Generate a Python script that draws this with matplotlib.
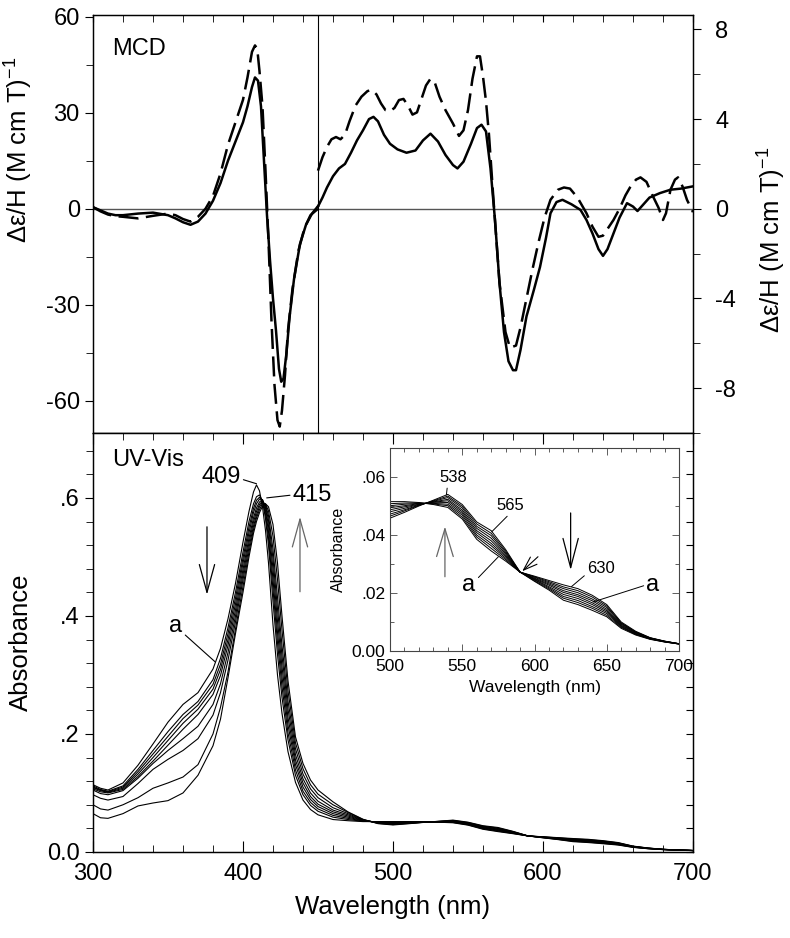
import numpy as np
import matplotlib.pyplot as plt
from matplotlib.patches import FancyArrowPatch
from matplotlib.ticker import MultipleLocator, FixedLocator, FixedFormatter

plt.rcParams['font.family'] = ['Liberation Sans', 'DejaVu Sans']
plt.rcParams['mathtext.fontset'] = 'custom'
plt.rcParams['mathtext.rm'] = 'Liberation Sans'
plt.rcParams['axes.linewidth'] = 0.9

# ---------------- MCD data ----------------
# solid trace, 300-450 nm (left axis)
mcd_solid_wl1 = [300, 305, 310, 315, 320, 330, 340, 350, 355, 360, 365, 370, 375, 380, 385,
                 390, 395, 400, 403, 406, 408, 410, 412, 414, 416, 418, 420, 422, 424, 425.5,
                 427, 429, 431, 434, 438, 442, 446, 450]
mcd_solid_v1 = [0.5, -0.5, -1.5, -2, -2, -1.5, -1.2, -2, -3, -4.2, -5, -4, -1.5, 2.5, 8,
                15, 21, 27, 32, 38, 41, 40, 32, 15, -2, -16, -28, -38, -50, -54,
                -53, -45, -34, -22, -11, -5, -1.5, 0.8]

# dashed trace, 300-450 nm (left axis)
mcd_dash_wl1 = [300, 305, 310, 315, 320, 330, 340, 350, 355, 360, 365, 370, 375, 380, 385,
                390, 395, 400, 403, 406, 408, 409.5, 411, 413, 415, 417, 419, 421, 423, 424.5,
                426, 428, 430, 433, 437, 441, 445, 450]
mcd_dash_v1 = [0.5, -0.8, -1.8, -2.3, -2.5, -3, -2.2, -1.5, -2, -3.2, -4, -2.5, 0, 4, 11,
               20, 27, 34, 41, 49, 51, 50, 43, 32, 12, -10, -35, -55, -66, -68,
               -63, -52, -38, -25, -13, -6, -2, 0]

# solid trace, 450-700 nm (right axis)
mcd_solid_wl2 = [450, 453, 456, 460, 464, 468, 472, 476, 480, 484, 487, 490, 494, 498, 503,
                 509, 515, 520, 525, 530, 535, 540, 543, 547, 552, 556, 559, 562, 565, 568,
                 571, 574, 577, 580, 582, 585, 589, 594, 598, 602, 605, 609, 613, 619, 625,
                 629, 633, 637, 640, 643, 647, 651, 656, 660, 663, 667, 671, 678, 685, 692, 700]
mcd_solid_v2 = [0.1, 0.5, 0.95, 1.45, 1.8, 2.0, 2.5, 3.05, 3.5, 4.0, 4.1, 3.9, 3.3, 2.9, 2.65,
                2.5, 2.6, 3.05, 3.35, 3.0, 2.4, 1.95, 1.8, 2.1, 2.9, 3.6, 3.75, 3.45, 1.8, -0.5,
                -3.3, -5.5, -6.8, -7.2, -7.2, -6.3, -4.8, -3.6, -2.6, -1.3, -0.2, 0.3, 0.4, 0.2, -0.05,
                -0.5, -1.1, -1.8, -2.1, -1.8, -1.1, -0.4, 0.25, 0.1, -0.1, 0.2, 0.5, 0.7, 0.85, 0.9, 1.0]

# dashed trace, 450-700 nm (right axis)
mcd_dash_wl2 = [450, 453, 456, 459, 462, 465, 468, 471, 475, 479, 483, 486, 489, 492, 495,
                498, 501, 504, 507, 510, 513, 516, 519, 522, 525, 528, 531, 535, 540, 544,
                547, 550, 553, 556, 558, 560, 562, 564, 567, 571, 575, 578, 582, 585, 589,
                593, 597, 601, 605, 610, 614, 618, 623, 629, 633, 637, 640, 643, 647, 651,
                655, 658, 662, 665, 669, 673, 677, 680, 682, 685, 688, 690, 693, 696, 700]
mcd_dash_v2 = [1.7, 2.3, 2.76, 3.1, 3.2, 3.1, 3.3, 3.9, 4.6, 5.0, 5.25, 5.3, 5.1, 4.7, 4.4,
               4.35, 4.5, 4.85, 4.9, 4.6, 4.2, 4.3, 4.9, 5.5, 5.8, 5.6, 5.0, 4.4, 3.8, 3.25,
               3.5, 4.4, 5.8, 6.8, 6.8, 5.9, 4.8, 3.3, 0.4, -3.3, -5.5, -6.2, -6.1, -5.3, -4.0,
               -2.7, -1.5, -0.4, 0.4, 0.85, 0.95, 0.9, 0.5, -0.2, -0.8, -1.25, -1.2, -0.9, -0.5, 0.0,
               0.6, 0.95, 1.3, 1.4, 1.2, 0.6, 0.05, -0.5, -0.2, 0.85, 1.3, 1.4, 1.0, 0.4, -0.15]

# ---------------- UV-Vis data ----------------
uv_wl = [300, 305, 310, 320, 330, 340, 350, 360, 370, 380, 385, 390, 395, 400, 404, 407, 409,
         411, 413, 415, 417, 420, 423, 426, 430, 435, 440, 445, 450, 460, 470, 480, 490,
         500, 510, 520, 530, 540, 550, 560, 570, 580, 590, 600, 610, 620, 630, 640, 650,
         660, 670, 680, 690, 700]

uv_a = [.114, .108, .105, .117, .147, .183, .220, .250, .270, .310, .345, .395, .455, .525, .577, .610, .622,
        .612, .585, .545, .490, .385, .300, .235, .170, .118, .088, .072, .063, .055, .053, .0515, .0515,
        .0515, .0515, .0512, .0505, .0495, .0455, .0385, .0345, .0310, .0272, .0258, .0243, .0228, .0215, .0192, .0160,
        .0100, .0068, .0046, .0034, .0025]
uv_b = [.112, .106, .103, .112, .140, .172, .204, .233, .255, .292, .328, .380, .440, .508, .560, .590, .602,
        .605, .595, .565, .520, .425, .335, .262, .190, .130, .097, .079, .069, .059, .055, .052, .0512,
        .0508, .0510, .0511, .0507, .0501, .0461, .0393, .0354, .0315, .0272, .0256, .0239, .0221, .0208, .0186, .0155,
        .0097, .0066, .0045, .0034, .0025]
uv_c = [.110, .105, .102, .110, .136, .166, .196, .226, .249, .284, .318, .370, .430, .498, .550, .582, .596,
        .601, .596, .572, .532, .445, .355, .280, .202, .139, .103, .084, .073, .062, .057, .0525, .051,
        .0501, .0506, .0509, .0509, .0506, .0468, .0400, .0363, .0320, .0272, .0254, .0235, .0215, .0201, .0179, .0150,
        .0095, .0065, .0045, .0033, .0025]
uv_d = [.109, .104, .101, .108, .132, .160, .189, .218, .242, .276, .309, .360, .420, .489, .541, .575, .590,
        .598, .597, .578, .543, .462, .373, .297, .215, .148, .110, .089, .077, .065, .059, .053, .0505,
        .0494, .0501, .0508, .0511, .0512, .0474, .0408, .0371, .0325, .0272, .0251, .0231, .0208, .0194, .0173, .0144,
        .0092, .0063, .0044, .0033, .0025]
uv_e = [.107, .102, .100, .106, .128, .154, .181, .208, .233, .267, .299, .350, .410, .479, .532, .566, .583,
        .593, .597, .583, .553, .480, .392, .314, .228, .156, .117, .094, .081, .068, .061, .0535, .050,
        .0487, .0497, .0506, .0513, .0518, .0480, .0415, .0380, .0330, .0272, .0249, .0227, .0202, .0188, .0166, .0139,
        .0089, .0062, .0043, .0033, .0025]
uv_f = [.105, .099, .097, .104, .125, .150, .172, .192, .213, .250, .285, .338, .400, .470, .524, .559, .577,
        .589, .595, .587, .562, .497, .412, .332, .242, .165, .124, .100, .086, .071, .063, .054, .0495,
        .0480, .0492, .0505, .0514, .0523, .0486, .0423, .0389, .0335, .0272, .0247, .0222, .0195, .0181, .0160, .0134,
        .0086, .0060, .0042, .0032, .0024]
uv_g = [.097, .091, .088, .094, .116, .140, .157, .172, .192, .232, .270, .325, .390, .461, .516, .552, .571,
        .585, .593, .589, .570, .513, .432, .350, .256, .175, .132, .107, .092, .075, .065, .0545, .049,
        .0472, .0487, .0503, .0516, .0529, .0493, .0430, .0398, .0340, .0272, .0245, .0218, .0188, .0174, .0153, .0129,
        .0084, .0058, .0042, .0032, .0024]
uv_h = [.080, .073, .071, .080, .092, .108, .117, .127, .148, .200, .245, .305, .378, .450, .508, .546, .566,
        .580, .590, .590, .578, .535, .462, .376, .273, .185, .141, .114, .098, .080, .067, .055, .0485,
        .0465, .0483, .0502, .0518, .0534, .0499, .0438, .0406, .0345, .0272, .0242, .0214, .0182, .0167, .0147, .0123,
        .0081, .0057, .0041, .0031, .0024]
uv_i = [.065, .058, .057, .065, .078, .083, .087, .100, .130, .180, .225, .295, .370, .440, .500, .540, .560,
        .575, .586, .590, .585, .555, .490, .400, .290, .195, .150, .122, .105, .085, .068, .0555, .048,
        .0458, .0478, .0500, .0520, .0540, .0505, .0445, .0415, .0350, .0272, .0240, .0210, .0175, .0160, .0140, .0118,
        .0078, .0055, .0040, .0031, .0024]

uv_spectra = [uv_a, uv_b, uv_c, uv_d, uv_e, uv_f, uv_g, uv_h, uv_i]

FS = 17      # tick labels and in-plot text
FSL = 18.5   # axis titles

fig = plt.figure(figsize=(7.9, 9.38), dpi=100)
ax1 = fig.add_axes([0.1177, 0.5384, 0.7595, 0.4456])
ax1r = ax1.twinx()
ax2 = fig.add_axes([0.1177, 0.0917, 0.7595, 0.4467])
ax2r = ax2.twinx()
axi = fig.add_axes([0.4937, 0.3060, 0.3658, 0.2164])

# ---- MCD panel ----
ax1.axhline(0, color='#555555', lw=1.0, zorder=1)
ax1.axvline(450, color='k', lw=0.8, zorder=1)
ax1.plot(mcd_solid_wl1, mcd_solid_v1, color='k', lw=1.8)
ax1.plot(mcd_dash_wl1, mcd_dash_v1, color='k', lw=1.8, dashes=(8, 3))
ax1r.plot(mcd_solid_wl2, mcd_solid_v2, color='k', lw=1.8)
ax1r.plot(mcd_dash_wl2, mcd_dash_v2, color='k', lw=1.8, dashes=(8, 3))

ax1.set_xlim(300, 700)
ax1.set_ylim(-70, 60.5)
ax1r.set_ylim(-10, 60.5 / 7)
ax1.xaxis.set_major_locator(MultipleLocator(100))
ax1.xaxis.set_minor_locator(MultipleLocator(20))
ax1.tick_params(axis='x', which='both', bottom=False, top=True, direction='in',
                labelbottom=False, labeltop=False, length=5)
ax1.yaxis.set_major_locator(FixedLocator([-60, -30, 0, 30, 60]))
ax1.yaxis.set_major_formatter(FixedFormatter(['-60', '-30', '0', '30', '60']))
ax1.yaxis.set_minor_locator(MultipleLocator(15))
ax1.tick_params(axis='y', which='both', direction='out', labelsize=FS)
ax1.tick_params(axis='y', which='major', length=6)
ax1.tick_params(axis='y', which='minor', length=5)
ax1r.yaxis.set_major_locator(FixedLocator([-8, -4, 0, 4, 8]))
ax1r.yaxis.set_major_formatter(FixedFormatter(['-8', '-4', '0', '4', '8']))
ax1r.yaxis.set_minor_locator(MultipleLocator(2))
ax1r.tick_params(axis='y', which='both', direction='out', labelsize=FS, pad=10)
ax1r.tick_params(axis='y', which='major', length=6)
ax1r.tick_params(axis='y', which='minor', length=5)
ax1.text(313, 50, 'MCD', fontsize=FS, va='center', ha='left')

# ---- UV-Vis panel ----
for spec in uv_spectra:
    ax2.plot(uv_wl, spec, color='k', lw=0.8)
ax2.set_xlim(300, 700)
ax2.set_ylim(0, 0.71)
ax2r.set_ylim(0, 0.71)
ax2.xaxis.set_major_locator(MultipleLocator(100))
ax2.xaxis.set_minor_locator(MultipleLocator(20))
ax2.tick_params(axis='x', which='both', direction='in', top=True, bottom=True, labelsize=FS, pad=8)
ax2.tick_params(axis='x', which='major', length=8)
ax2.tick_params(axis='x', which='minor', length=5)
ax2.yaxis.set_major_locator(FixedLocator([0, 0.2, 0.4, 0.6]))
ax2.yaxis.set_major_formatter(FixedFormatter(['0.0', '.2', '.4', '.6']))
ax2.yaxis.set_minor_locator(MultipleLocator(0.04))
ax2.tick_params(axis='y', which='both', direction='out', labelsize=FS)
ax2.tick_params(axis='y', which='major', length=6)
ax2.tick_params(axis='y', which='minor', length=5)
ax2r.yaxis.set_major_locator(MultipleLocator(0.04))
ax2r.tick_params(axis='y', which='both', direction='in', length=5, labelright=False)
ax2.set_xlabel('Wavelength (nm)', fontsize=FSL, labelpad=7)
ax2.set_ylabel('Absorbance', fontsize=FSL, labelpad=10)

ax2.text(313, 0.665, 'UV-Vis', fontsize=FS, va='center', ha='left')
ax2.annotate('409', xy=(409, 0.624), xytext=(385.3, 0.636), fontsize=FS,
             ha='center', va='center',
             arrowprops=dict(arrowstyle='-', lw=0.8, color='k', shrinkA=0, shrinkB=0,
                             relpos=(1.0, 0.4)))
ax2.annotate('415', xy=(415.8, 0.600), xytext=(446.3, 0.605), fontsize=FS,
             ha='center', va='center',
             arrowprops=dict(arrowstyle='-', lw=0.8, color='k', shrinkA=0, shrinkB=0,
                             relpos=(0.0, 0.5)))
ax2.annotate('a', xy=(381.3, 0.3225), xytext=(355.3, 0.383), fontsize=FS,
             ha='center', va='center',
             arrowprops=dict(arrowstyle='-', lw=0.8, color='k', shrinkA=0, shrinkB=0,
                             relpos=(1.0, 0.2)))


def arrow(ax, x0, y0, x1, y1, color='k', hl=20, hw=5.5, lw=0.9):
    ax.add_patch(FancyArrowPatch((x0, y0), (x1, y1), mutation_scale=1,
                                 arrowstyle='->,head_length=%g,head_width=%g' % (hl, hw),
                                 color=color, lw=lw, shrinkA=0, shrinkB=0))


arrow(ax2, 376, 0.551, 376, 0.436)
arrow(ax2, 438, 0.441, 438, 0.568, color='#666666')

# ---- inset ----
for spec in uv_spectra:
    axi.plot(uv_wl[33:], spec[33:], color='k', lw=0.7)
axi.set_xlim(500, 700)
axi.set_ylim(0, 0.07)
for s in axi.spines.values():
    s.set_color('#444444')
    s.set_linewidth(0.8)
axi.xaxis.set_major_locator(MultipleLocator(50))
axi.xaxis.set_minor_locator(MultipleLocator(10))
axi.yaxis.set_major_locator(FixedLocator([0, 0.02, 0.04, 0.06]))
axi.yaxis.set_major_formatter(FixedFormatter(['0.00', '.02', '.04', '.06']))
axi.yaxis.set_minor_locator(MultipleLocator(0.01))
axi.tick_params(which='both', direction='in', top=True, right=True, labelsize=12.5,
                color='#444444', width=0.6)
axi.tick_params(which='major', length=5)
axi.tick_params(which='minor', length=3)
axi.tick_params(axis='x', pad=6)
axi.set_xlabel('Wavelength (nm)', fontsize=12.5, labelpad=4)
axi.set_ylabel('Absorbance', fontsize=11.5, labelpad=4)

axi.annotate('538', xy=(539, 0.0538), xytext=(543.6, 0.0597), fontsize=12,
             ha='center', va='center',
             arrowprops=dict(arrowstyle='-', lw=0.7, color='k', shrinkA=0, shrinkB=0,
                             relpos=(0.3, 0.0)))
axi.annotate('565', xy=(570.4, 0.0411), xytext=(583, 0.050), fontsize=12,
             ha='center', va='center',
             arrowprops=dict(arrowstyle='-', lw=0.7, color='k', shrinkA=0, shrinkB=0,
                             relpos=(0.5, 0.0)))
axi.annotate('a', xy=(575, 0.0325), xytext=(554.7, 0.0228), fontsize=FS,
             ha='center', va='center',
             arrowprops=dict(arrowstyle='-', lw=0.7, color='k', shrinkA=0, shrinkB=0,
                             relpos=(1.0, 0.7)))
axi.annotate('630', xy=(625.6, 0.0222), xytext=(646, 0.0283), fontsize=12,
             ha='center', va='center',
             arrowprops=dict(arrowstyle='-', lw=0.7, color='k', shrinkA=0, shrinkB=0,
                             relpos=(0.0, 0.2)))
axi.annotate('a', xy=(640.5, 0.0169), xytext=(682, 0.0228), fontsize=FS,
             ha='center', va='center',
             arrowprops=dict(arrowstyle='-', lw=0.7, color='k', shrinkA=0, shrinkB=0,
                             relpos=(0.0, 0.5)))
arrow(axi, 538, 0.0256, 538, 0.0429, color='#666666', hl=20, hw=6)
arrow(axi, 625, 0.0476, 625, 0.0279, hl=21, hw=5.5)
arrow(axi, 602.4, 0.0325, 591.5, 0.0275, hl=10, hw=3.5, lw=0.8)

# y labels of the MCD panel
mcd_label = 'Δε/H (M cm T)$^{\\mathregular{-1}}$'
fig.text(18 / 790, 1 - 150 / 938, mcd_label, rotation=90,
         fontsize=FSL, ha='center', va='center')
fig.text(771 / 790, 1 - 240 / 938, mcd_label, rotation=90,
         fontsize=FSL, ha='center', va='center')

fig.savefig('out.png', dpi=100)
